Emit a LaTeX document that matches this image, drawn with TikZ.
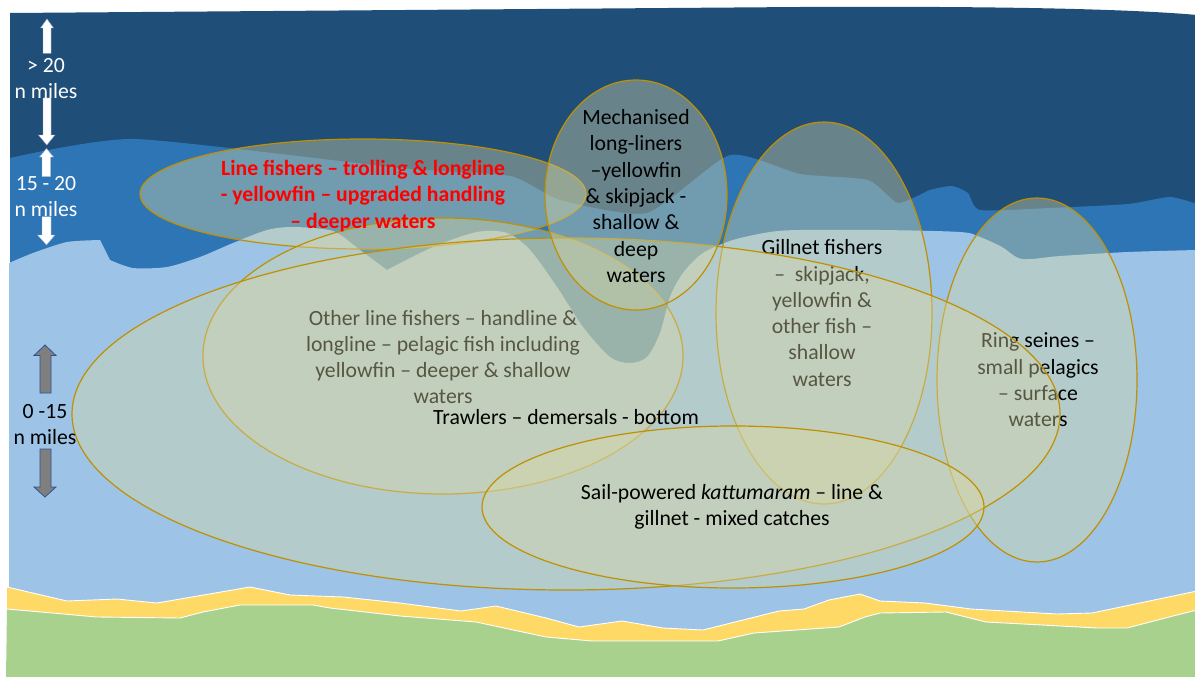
\documentclass[tikz,border=0pt]{standalone}
\usepackage{fontspec}
\setmainfont{Carlito}
\usetikzlibrary{shapes.geometric}
\definecolor{navy}{HTML}{1F4E79}
\definecolor{midblue}{HTML}{2E75B6}
\definecolor{lightblue}{HTML}{9DC3E6}
\definecolor{sand}{HTML}{FFD966}
\definecolor{grass}{HTML}{A9D18E}
\definecolor{gold}{HTML}{BF9000}
\definecolor{zonefill}{RGB}{215,215,165}
\definecolor{arrowgrey}{HTML}{7F7F7F}
\definecolor{arrowedge}{HTML}{2F528F}
\definecolor{linered}{HTML}{FF0000}
\begin{document}
\begin{tikzpicture}[x=1pt,y=-1pt,
  zone/.style={ellipse, draw=gold, line width=1.2pt, fill=zonefill, fill opacity=0.4, inner sep=0pt, outer sep=0pt},
  lbl/.style={align=center, font=\fontsize{21.7}{26.3}\selectfont, text=black, inner sep=0pt},
  redlbl/.style={lbl, font=\fontsize{21.7}{26.3}\selectfont\bfseries, text=linered},
  sidelbl/.style={lbl, font=\fontsize{21.7}{26}\selectfont},
  whitearrow/.style={fill=white, draw=arrowedge!50!white, line width=0.4pt},
  greyarrow/.style={fill=arrowgrey, draw=arrowedge, line width=0.8pt},
  shore/.style={draw=white, line width=0.9pt, line join=round}]
\useasboundingbox (0,0) rectangle (1195,677);
\fill[white] (0,0) rectangle (1195,677);

% sea layers
\fill[navy] (10,13) -- (800,7) .. controls (1000,6) and (1130,9) .. (1197,15) -- (1197,660) -- (10,660) -- cycle;
\fill[midblue] (10,660) -- plot[smooth, tension=0.35] coordinates {(10,158) (135,139) (400,168) (510,176) (560,200) (647,213) (730,155) (800,174) (868,180) (898,203) (930,190) (952,186) (968,193) (980,210) (1050,208) (1128,204) (1170,197) (1197,204)} -- (1197,660) -- cycle;
\fill[lightblue] (9,660) -- plot[smooth, tension=0.4] coordinates {(9,263) (33,253) (67,242) (100,240)} -- plot[smooth, tension=0.45] coordinates {(110,260) (133,268) (167,267) (200,257) (233,243) (267,230) (293,227) (333,231) (360,250) (387,270)} -- plot[smooth, tension=0.5] coordinates {(387,270) (433,247) (477,232) (507,233) (530,250) (557,287) (583,327) (610,357) (630,363) (647,357) (660,333) (670,297) (683,273) (703,253) (733,240) (770,232) (800,230) (880,230) (960,232) (980,237) (1002,247) (1022,259) (1060,256) (1128,252) (1197,250)} -- (1197,660) -- cycle;

% sand and land
\fill[sand] (7,587) -- (67,601) -- (117,599) -- (157,603) -- (250,587) -- (290,595) -- (343,597) -- (400,603) -- (461,611) -- (496,606) -- (546,618) -- (579,627) -- (622,621) -- (663,628) -- (703,630) -- (779,611) -- (804,609) -- (829,600) -- (860,594) -- (880,601) -- (925,603) -- (971,609) -- (1057,614) -- (1092,613) -- (1197,591) -- (1197,677) -- (7,677) -- cycle;
\fill[grass] (7,609) -- (97,617) -- (180,618) -- (203,612) -- (240,605) -- (313,605) -- (330,608) -- (400,616) -- (476,622) -- (546,637) -- (592,641) -- (718,641) -- (754,633) -- (839,627) -- (865,617) -- (880,613) -- (946,612) -- (986,622) -- (1097,628) -- (1127,628) -- (1173,616) -- (1197,610) -- (1197,678) -- (6,678) -- cycle;
\draw[shore] (7,587) -- (67,601) -- (117,599) -- (157,603) -- (250,587) -- (290,595) -- (343,597) -- (400,603) -- (461,611) -- (496,606) -- (546,618) -- (579,627) -- (622,621) -- (663,628) -- (703,630) -- (779,611) -- (804,609) -- (829,600) -- (860,594) -- (880,601) -- (925,603) -- (971,609) -- (1057,614) -- (1092,613) -- (1197,591);
\draw[shore] (7,609) -- (97,617) -- (180,618) -- (203,612) -- (240,605) -- (313,605) -- (330,608) -- (400,616) -- (476,622) -- (546,637) -- (592,641) -- (718,641) -- (754,633) -- (839,627) -- (865,617) -- (880,613) -- (946,612) -- (986,622) -- (1097,628) -- (1127,628) -- (1173,616) -- (1197,610);

% fishing zones
\node[zone, minimum width=446pt, minimum height=110pt] (linefish) at (363,194) {};
\node[zone, minimum width=480pt, minimum height=276pt] (otherline) at (443,356) {};
\node[lbl] (otherlinetxt) at (443,357) {Other line fishers – handline \&\\longline – pelagic fish including\\yellowfin – deeper \& shallow\\waters};
\node[zone, minimum width=216pt, minimum height=382pt] (gillnet) at (824,313) {};
\node[lbl] (gillnettxt) at (822,313) {Gillnet fishers\\–\ \ skipjack,\\yellowfin \&\\other fish –\\shallow\\waters};
\node[zone, minimum width=200pt, minimum height=364pt] (ring) at (1037,380) {};
\node[lbl] (ringtxt) at (1038,380) {Ring seines –\\small pelagics\\– surface\\waters};
\node[zone, minimum width=988pt, minimum height=352pt] (trawl) at (566,414) {};
\node[lbl] (trawltxt) at (566,417) {Trawlers – demersals - bottom};
\node[zone, minimum width=182pt, minimum height=230pt] (mech) at (636,195) {};
\node[lbl] (mechtxt) at (636,196) {Mechanised\\long-liners\\–yellowfin\\\& skipjack -\\shallow \&\\deep\\waters};
\node[redlbl] (linefishtxt) at (363,196) {Line fishers – trolling \& longline\\- yellowfin – upgraded handling\\– deeper waters};
\node[zone, minimum width=502pt, minimum height=162pt] (sail) at (733,507) {};
\node[lbl] (sailtxt) at (732,507) {Sail-powered \textit{kattumaram} – line \&\\gillnet - mixed catches};

% distance markers
\draw[whitearrow] (47,19) -- (53.5,28) -- (51,28) -- (51,53.5) -- (43,53.5) -- (43,28) -- (40.5,28) -- cycle;
\draw[whitearrow] (43,98) -- (51,98) -- (51,135) -- (55,135) -- (46.8,145) -- (38.5,135) -- (43,135) -- cycle;
\draw[whitearrow] (46.5,148.5) -- (53.5,157) -- (50.7,157) -- (50.7,176.5) -- (42,176.5) -- (42,157) -- (39.5,157) -- cycle;
\draw[whitearrow] (42,216.5) -- (51,216.5) -- (51,235) -- (55,235) -- (46.5,245) -- (37.5,235) -- (42,235) -- cycle;
\draw[greyarrow] (45,345) -- (56,355.5) -- (51,355.5) -- (51,393) -- (40,393) -- (40,355.5) -- (34,355.5) -- cycle;
\draw[greyarrow] (40,449) -- (51,449) -- (51,487) -- (56,487) -- (45,497) -- (34,487) -- (40,487) -- cycle;
\node[sidelbl, text=white] (far) at (46,79) {> 20\\n miles};
\node[sidelbl, text=white] (mid) at (46,197) {15 - 20\\n miles};
\node[sidelbl] (near) at (45,425) {0 -15\\n miles};
\end{tikzpicture}
\end{document}
